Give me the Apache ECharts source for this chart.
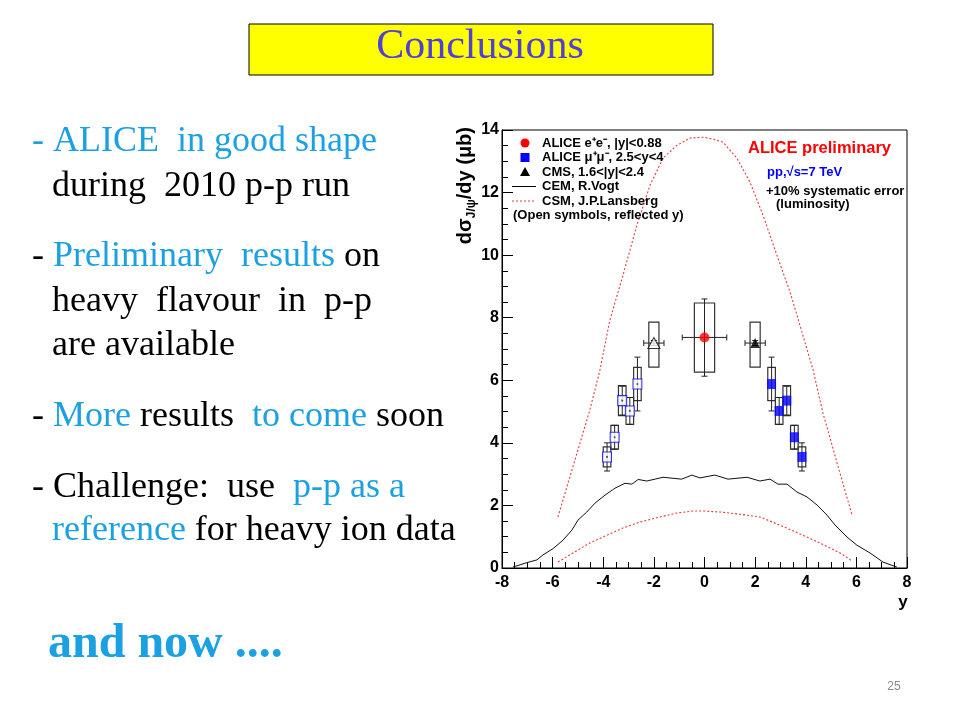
<!DOCTYPE html>
<html><head><meta charset="utf-8">
<script src="https://cdn.jsdelivr.net/npm/echarts/dist/echarts.min.js"></script>
<style>html,body{margin:0;padding:0;background:#fff}#c{width:960px;height:720px}</style>
</head><body><div id="c"></div>
<script>
// ---------- data ----------
// CEM, R.Vogt (solid black)
const cemX = [-7.57,-7.02,-6.62,-6.38,-5.98,-5.59,-5.24,-5.0,-4.65,-4.33,-3.93,-3.54,-3.14,-2.87,-2.62,-2.28,-1.64,-0.9,-0.5,-0.18,0.41,0.93,1.68,2.19,2.59,2.9,3.26,3.65,4.05,4.45,4.84,5.16,5.63,6.02,6.54,7.05,7.6];
const cemY = [0.03,0.17,0.26,0.42,0.62,0.89,1.21,1.53,1.79,2.07,2.33,2.55,2.71,2.68,2.83,2.78,2.9,2.84,2.97,2.88,2.97,2.84,2.9,2.78,2.84,2.68,2.68,2.43,2.27,2.01,1.69,1.37,0.99,0.73,0.48,0.19,0.03];
// CSM, J.P.Lansberg upper band edge (red dashed)
const csmUpX = [-5.79,-5.12,-4.53,-4.13,-3.74,-3.22,-2.67,-2.15,-1.64,-1.09,-0.57,-0.06,0.34,0.73,1.28,1.8,2.31,2.86,3.38,3.77,4.29,4.68,5.24,5.83];
const csmUpY = [1.63,3.45,5.05,6.33,7.92,9.36,10.96,12.24,13.1,13.51,13.74,13.77,13.71,13.61,13.1,12.33,11.28,10.0,8.82,7.76,6.33,4.95,3.35,1.69];
// CSM lower band edge
const csmLoX = [-5.79,-5.2,-4.53,-3.85,-3.22,-2.55,-1.76,-1.09,-0.45,0.0,0.61,1.4,2.19,2.98,3.77,4.56,5.36,5.83];
const csmLoY = [0.19,0.48,0.8,1.05,1.28,1.47,1.63,1.76,1.82,1.82,1.79,1.72,1.63,1.37,1.09,0.8,0.48,0.22];
// ALICE e+e-, |y|<0.88
const eeX = [0.0];
const eeY = [7.37];
const eeStatLo = [6.13];
const eeStatHi = [8.60];
const eeSysLo = [6.26];
const eeSysHi = [8.47];
const eeXHalfRange = [0.88];
const eeBoxHalf = [0.4];
// ALICE mu+mu-, 2.5<y<4
const muX = [2.65,2.95,3.25,3.55,3.85];
const muY = [5.88,5.02,5.35,4.18,3.55];
const muStat = [0.86,0.43,0.46,0.38,0.45];
const muSys = [0.53,0.43,0.48,0.38,0.32];
const muHalfBin = 0.15;
// CMS, 1.6<|y|<2.4
const cmsX = [2.0];
const cmsY = [7.19];
const cmsStat = [0.08];
const cmsSysLo = [6.42];
const cmsSysHi = [7.86];
const cmsXLo = [1.6];
const cmsXHi = [2.4];
const cmsBoxHalf = 0.2;

const xTickValues = [-8,-6,-4,-2,0,2,4,6,8];

// ---------- build ----------
const zip = (a, b) => a.map((v, i) => [v, b[i]]);
const boxes = [];   // [xLo, xHi, yLo, yHi]
const errs = [];    // [x, y, xLo, xHi, yLo, yHi]
eeX.forEach((x, i) => {
  boxes.push([x - eeBoxHalf[i], x + eeBoxHalf[i], eeSysLo[i], eeSysHi[i]]);
  errs.push([x, eeY[i], x - eeXHalfRange[i], x + eeXHalfRange[i], eeStatLo[i], eeStatHi[i]]);
});
muX.forEach((x, i) => {
  [x, -x].forEach(xx => {
    boxes.push([xx - muHalfBin, xx + muHalfBin, muY[i] - muSys[i], muY[i] + muSys[i]]);
    errs.push([xx, muY[i], xx, xx, muY[i] - muStat[i], muY[i] + muStat[i]]);
  });
});
cmsX.forEach((x, i) => {
  [1, -1].forEach(s => {
    const xx = s * x;
    boxes.push([xx - cmsBoxHalf, xx + cmsBoxHalf, cmsSysLo[i], cmsSysHi[i]]);
    const lo = s > 0 ? cmsXLo[i] : -cmsXHi[i];
    const hi = s > 0 ? cmsXHi[i] : -cmsXLo[i];
    errs.push([xx, cmsY[i], lo, hi, cmsY[i] - cmsStat[i], cmsY[i] + cmsStat[i]]);
  });
});

function renderBox(params, api) {
  const p1 = api.coord([api.value(0), api.value(3)]);
  const p2 = api.coord([api.value(1), api.value(2)]);
  return { type: 'rect', shape: { x: p1[0], y: p1[1], width: p2[0] - p1[0], height: p2[1] - p1[1] },
           style: { fill: 'none', stroke: '#333', lineWidth: 1.2 } };
}
function renderErr(params, api) {
  const x = api.value(0), y = api.value(1), xl = api.value(2), xh = api.value(3), yl = api.value(4), yh = api.value(5);
  const st = { stroke: '#222', lineWidth: 1 };
  const c = 3;
  const pl = api.coord([x, yl]), ph = api.coord([x, yh]);
  const ch = [
    { type: 'line', shape: { x1: pl[0], y1: pl[1], x2: ph[0], y2: ph[1] }, style: st },
    { type: 'line', shape: { x1: pl[0] - c, y1: pl[1], x2: pl[0] + c, y2: pl[1] }, style: st },
    { type: 'line', shape: { x1: ph[0] - c, y1: ph[1], x2: ph[0] + c, y2: ph[1] }, style: st }
  ];
  if (xh - xl > 1e-6) {
    const a = api.coord([xl, y]), b = api.coord([xh, y]);
    ch.push({ type: 'line', shape: { x1: a[0], y1: a[1], x2: b[0], y2: b[1] }, style: st });
    ch.push({ type: 'line', shape: { x1: a[0], y1: a[1] - c, x2: a[0], y2: a[1] + c }, style: st });
    ch.push({ type: 'line', shape: { x1: b[0], y1: b[1] - c, x2: b[0], y2: b[1] + c }, style: st });
  }
  return { type: 'group', children: ch };
}

const SANS = "'Liberation Sans', Arial, Helvetica, sans-serif";
const SERIF = "'Liberation Serif', 'Times New Roman', serif";
const CYAN = '#1ba1e2';
const RED_DASH = '#e23c3c';

const axisCommon = {
  axisLine: { show: true, onZero: false, lineStyle: { color: '#000', width: 1 } },
  axisTick: { show: true, inside: true, length: 11, lineStyle: { color: '#000', width: 1 } },
  minorTick: { show: true, splitNumber: 4, length: 6, lineStyle: { color: '#000', width: 1 } },
  splitLine: { show: false },
  minorSplitLine: { show: false },
  axisLabel: { color: '#000', fontFamily: SANS, fontWeight: 'bold', fontSize: 16 }
};

const serifRich = {
  c: { fontFamily: SERIF, fontSize: 36, fill: CYAN },
  k: { fontFamily: SERIF, fontSize: 36, fill: '#000' }
};
function slideText(x, y, text) {
  return { type: 'text', x: x, y: y, z: 100,
    style: { text: text, rich: serifRich, fontFamily: SERIF, fontSize: 36, align: 'left', verticalAlign: 'middle' } };
}
function legText(x, y, text, color, size, align) {
  return { type: 'text', x: x, y: y, z: 100,
    style: { text: text, fill: color || '#000', font: 'bold ' + (size || 13) + 'px ' + SANS, align: align || 'left', verticalAlign: 'middle' } };
}

const graphics = [
  // title box
  { type: 'rect', shape: { x: 249, y: 24, width: 464, height: 51 }, style: { fill: '#ffff00', stroke: '#000', lineWidth: 1 }, z: 99 },
  { type: 'text', x: 480, y: 47, z: 100, style: { text: 'Conclusions', fill: '#5040d8', font: '42px ' + SERIF, align: 'center', verticalAlign: 'middle' } },
  // left text
  slideText(32, 142, '{c|- ALICE  in good shape}'),
  slideText(52, 187, '{k|during  2010 p-p run}'),
  slideText(32, 257, '{k|- }{c|Preliminary  results}{k| on}'),
  slideText(52, 302, '{k|heavy  flavour  in  p-p}'),
  slideText(52, 346, '{k|are available}'),
  slideText(32, 417, '{k|- }{c|More}{k| results  }{c|to come}{k| soon}'),
  slideText(32, 488, '{k|- Challenge:  use  }{c|p-p as a}'),
  slideText(52, 531, '{c|reference}{k| for heavy ion data}'),
  { type: 'text', x: 48, y: 645, z: 100, style: { text: 'and now ....', fill: CYAN, font: 'bold 48px ' + SERIF, align: 'left', verticalAlign: 'middle' } },
  { type: 'text', x: 894, y: 687, z: 100, style: { text: '25', fill: '#8a8a8a', font: '12px ' + SANS, align: 'center', verticalAlign: 'middle' } },
  // axis titles
  { type: 'text', x: 465, y: 127, rotation: Math.PI / 2, z: 100,
    style: { text: '{a|dσ}{b|J/ψ}{a|/dy (μb)}', align: 'right', verticalAlign: 'middle',
      rich: { a: { fontFamily: SANS, fontWeight: 'bold', fontSize: 20, fill: '#000', lineHeight: 25 },
              b: { fontFamily: SANS, fontWeight: 'bold', fontSize: 12, fill: '#000', verticalAlign: 'bottom' } } } },
  legText(903, 602, 'y', '#000', 17, 'center'),
  // legend
  { type: 'circle', shape: { cx: 525, cy: 143, r: 4.5 }, style: { fill: '#ff0000' }, z: 100 },
  { type: 'rect', shape: { x: 520.5, y: 153, width: 9, height: 9 }, style: { fill: '#0000ff' }, z: 100 },
  { type: 'polygon', shape: { points: [[525, 167], [520, 176], [530, 176]] }, style: { fill: '#000' }, z: 100 },
  { type: 'line', shape: { x1: 512, y1: 186.5, x2: 536, y2: 186.5 }, style: { stroke: '#000', lineWidth: 1 }, z: 100 },
  { type: 'line', shape: { x1: 512, y1: 201, x2: 536, y2: 201 }, style: { stroke: RED_DASH, lineWidth: 1, lineDash: [2, 2] }, z: 100 },
  legText(542, 143, 'ALICE e⁺e⁻, |y|<0.88'),
  legText(542, 157.5, 'ALICE μ⁺μ⁻, 2.5<y<4'),
  legText(542, 172, 'CMS, 1.6<|y|<2.4'),
  legText(542, 186.5, 'CEM, R.Vogt'),
  legText(542, 201, 'CSM, J.P.Lansberg'),
  legText(513, 215.5, '(Open symbols, reflected y)'),
  legText(748, 148, 'ALICE preliminary', '#ff0000', 16.5),
  legText(767, 172, 'pp,√s=7 TeV', '#0000ff', 13),
  legText(766, 191, '+10% systematic error', '#000', 13),
  legText(776, 204, '(luminosity)', '#000', 13)
];

const option = {
  animation: false,
  backgroundColor: '#ffffff',
  grid: { left: 502, top: 130, width: 405, height: 438, show: true, borderColor: '#000', borderWidth: 1,
          backgroundColor: 'transparent', containLabel: false, outerBoundsMode: 'none' },
  xAxis: Object.assign({}, axisCommon, { type: 'value', min: xTickValues[0], max: xTickValues[xTickValues.length - 1], interval: 2,
    axisLabel: Object.assign({}, axisCommon.axisLabel, { margin: 7, showMinLabel: true, showMaxLabel: true }) }),
  yAxis: Object.assign({}, axisCommon, { type: 'value', min: 0, max: 14, interval: 2,
    axisLabel: Object.assign({}, axisCommon.axisLabel, { margin: 3, showMinLabel: true, showMaxLabel: true }) }),
  series: [
    { type: 'line', name: 'CEM, R.Vogt', data: zip(cemX, cemY), showSymbol: false, symbol: 'none', z: 1,
      lineStyle: { color: '#111', width: 1 } },
    { type: 'line', name: 'CSM upper', data: zip(csmUpX, csmUpY), showSymbol: false, symbol: 'none', z: 1,
      lineStyle: { color: RED_DASH, width: 1.1, type: [2, 2] } },
    { type: 'line', name: 'CSM lower', data: zip(csmLoX, csmLoY), showSymbol: false, symbol: 'none', z: 1,
      lineStyle: { color: RED_DASH, width: 1.1, type: [2, 2] } },
    { type: 'custom', name: 'sys', data: boxes, renderItem: renderBox, encode: { x: [0, 1], y: [2, 3] }, z: 2 },
    { type: 'custom', name: 'stat', data: errs, renderItem: renderErr, encode: { x: [0, 2, 3], y: [1, 4, 5] }, z: 3 },
    { type: 'scatter', name: 'ALICE ee', data: zip(eeX, eeY), symbol: 'circle', symbolSize: 10, z: 4,
      itemStyle: { color: '#ff0000' } },
    { type: 'scatter', name: 'ALICE mumu', data: zip(muX, muY), symbol: 'rect', symbolSize: [9, 10], z: 4,
      itemStyle: { color: '#0000ff' } },
    { type: 'scatter', name: 'ALICE mumu refl', data: zip(muX.map(v => -v), muY), symbol: 'rect', symbolSize: [9, 10], z: 4,
      itemStyle: { color: '#ffffff', borderColor: '#0000ff', borderWidth: 1 } },
    { type: 'scatter', name: 'refl centre', data: zip(muX.map(v => -v), muY), symbol: 'circle', symbolSize: 2.2, z: 5,
      itemStyle: { color: '#333' } },
    { type: 'scatter', name: 'CMS', data: zip(cmsX, cmsY), symbol: 'triangle', symbolSize: 10, z: 4,
      itemStyle: { color: '#000' } },
    { type: 'scatter', name: 'CMS refl', data: zip(cmsX.map(v => -v), cmsY), symbol: 'triangle', symbolSize: [12, 11], z: 4,
      itemStyle: { color: '#ffffff', borderColor: '#000', borderWidth: 1 } }
  ],
  graphic: graphics
};
const chart = echarts.init(document.getElementById('c'), null, { renderer: 'canvas' });
chart.setOption(option);
</script></body></html>
